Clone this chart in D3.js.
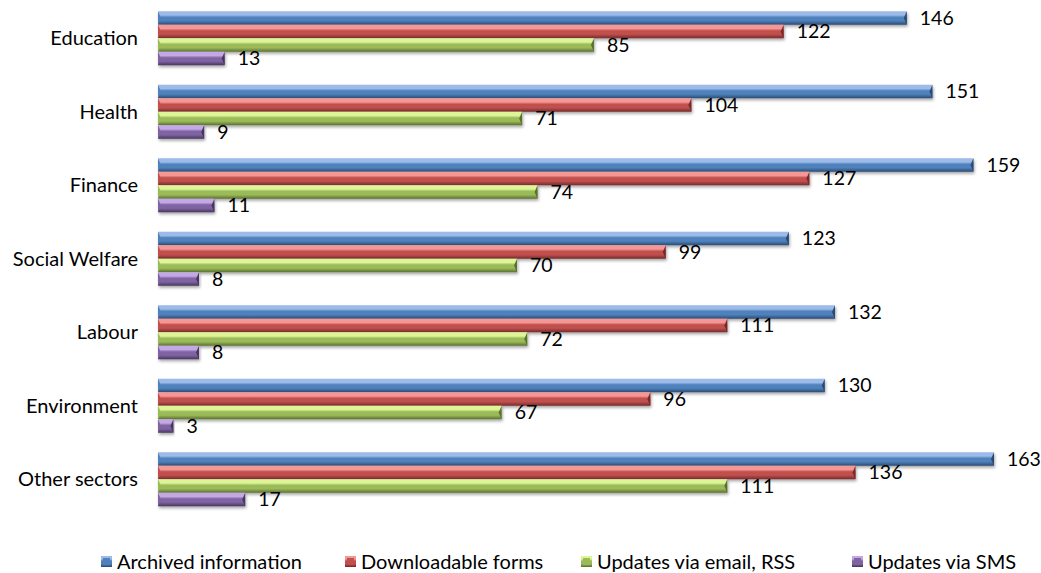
<!DOCTYPE html>
<html>
<head>
<meta charset="utf-8">
<script src="https://cdn.jsdelivr.net/npm/d3@7"></script>
<style>
  body { margin: 0; background: #fff; }
  svg text { font-family: Lato, "Open Sans", sans-serif; fill: #000; }
</style>
</head>
<body>
<div id="chart"></div>
<script>
const categories = ["Education", "Health", "Finance", "Social Welfare", "Labour", "Environment", "Other sectors"];
const seriesNames = ["Archived information", "Downloadable forms", "Updates via email, RSS", "Updates via SMS"];
const archived = [146, 151, 159, 123, 132, 130, 163];
const forms = [122, 104, 127, 99, 111, 96, 136];
const emailRss = [85, 71, 74, 70, 72, 67, 111];
const sms = [13, 9, 11, 8, 8, 3, 17];

const seriesValues = [archived, forms, emailRss, sms];
// base, light, dark
const palette = [
    ["#4F81BD", "#9DBBE8", "#2B4A72"],
    ["#C0504D", "#F59794", "#74292A"],
    ["#9BBB59", "#DDF597", "#5A6F30"],
    ["#8064A2", "#C4A8E6", "#463660"]
];

const width = 1041, height = 573;
const plotLeft = 158, plotTop = 1.5, plotBottom = 516;

const svg = d3.select("#chart").append("svg")
    .attr("width", width)
    .attr("height", height);

const defs = svg.append("defs");

palette.forEach((c, i) => {
    let g = defs.append("linearGradient")
        .attr("id", "grad" + i)
        .attr("x1", "0%").attr("y1", "0%")
        .attr("x2", "0%").attr("y2", "100%");
    g.append("stop").attr("offset", "0%").attr("stop-color", c[1]);
    g.append("stop").attr("offset", "28%").attr("stop-color", c[1]);
    g.append("stop").attr("offset", "45%").attr("stop-color", c[0]);
    g.append("stop").attr("offset", "70%").attr("stop-color", c[0]);
    g.append("stop").attr("offset", "100%").attr("stop-color", c[2]);
});

let shadow = defs.append("filter")
    .attr("id", "shadow")
    .attr("x", "-5%").attr("y", "-30%")
    .attr("width", "110%").attr("height", "180%");
shadow.append("feDropShadow")
    .attr("dx", 1).attr("dy", 2)
    .attr("stdDeviation", 1.5)
    .attr("flood-color", "#000")
    .attr("flood-opacity", 0.35);

const x = d3.scaleLinear()
    .domain([0, 163])
    .range([plotLeft, 994]);

const y = d3.scaleBand()
    .domain(categories)
    .range([plotTop, plotBottom])
    .paddingInner(0.265)
    .paddingOuter(0.1325);

const ySub = d3.scaleBand()
    .domain(d3.range(seriesNames.length))
    .range([0, y.bandwidth()]);

// category labels
svg.append("g")
    .selectAll("text")
    .data(categories)
    .join("text")
    .attr("x", 138)
    .attr("y", d => y(d) + y.bandwidth() / 2)
    .attr("dy", "0.35em")
    .attr("text-anchor", "end")
    .attr("font-size", 20)
    .text(d => d);

function bevelBar(g, x0, y0, w, h, si) {
    let c = palette[si];
    let b = Math.min(3, w / 2);
    g.append("rect")
        .attr("x", x0).attr("y", y0)
        .attr("width", w).attr("height", h)
        .attr("fill", "url(#grad" + si + ")")
        .attr("filter", "url(#shadow)");
    // left chamfer
    g.append("polygon")
        .attr("points", [[x0, y0], [x0 + b, y0 + h / 2], [x0, y0 + h]].join(" "))
        .attr("fill", c[0]);
    // right chamfer
    g.append("polygon")
        .attr("points", [[x0 + w, y0], [x0 + w - b, y0 + h / 2], [x0 + w, y0 + h]].join(" "))
        .attr("fill", c[2]);
}

const bars = svg.append("g");
categories.forEach((cat, ci) => {
    seriesValues.forEach((vals, si) => {
        let v = vals[ci];
        let y0 = y(cat) + ySub(si);
        let h = ySub.bandwidth();
        bevelBar(bars, x(0), y0, x(v) - x(0), h, si);
        bars.append("text")
            .attr("x", x(v) + 13)
            .attr("y", y0 + h / 2)
            .attr("dy", "0.35em")
            .attr("font-size", 19.5)
            .text(v);
    });
});

// legend
const legendX = [101, 345, 581, 852];
const legend = svg.append("g");
seriesNames.forEach((name, i) => {
    let lg = legend.append("g").attr("transform", `translate(${legendX[i]},556)`);
    lg.append("rect")
        .attr("width", 11).attr("height", 11)
        .attr("fill", "url(#grad" + i + ")");
    lg.append("rect")
        .attr("x", 2).attr("y", 2)
        .attr("width", 7).attr("height", 7)
        .attr("fill", palette[i][0]);
    lg.append("text")
        .attr("x", 16)
        .attr("y", 5.5)
        .attr("dy", "0.35em")
        .attr("font-size", 20)
        .text(name);
});
</script>
</body>
</html>
